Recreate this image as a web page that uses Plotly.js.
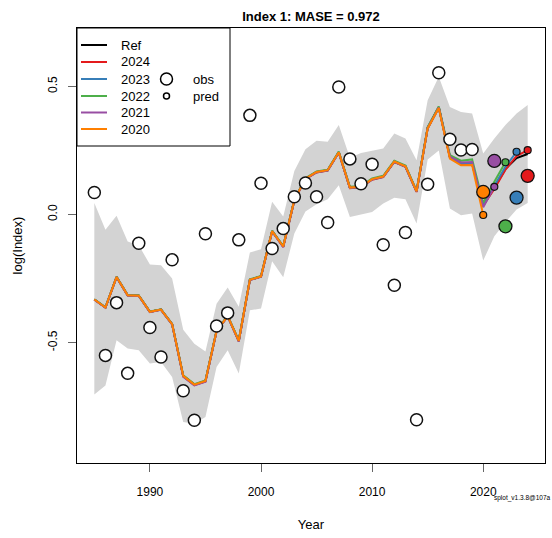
<!DOCTYPE html>
<html>
<head>
<meta charset="utf-8">
<script src="https://cdn.plot.ly/plotly-3.0.1.min.js"></script>
<style>html,body{margin:0;padding:0;background:#fff;}#chart{width:552px;height:538px;}</style>
</head>
<body>
<div id="chart"></div>
<script>
// ---- data ----
var years = [1985,1986,1987,1988,1989,1990,1991,1992,1993,1994,1995,1996,1997,1998,1999,2000,2001,2002,2003,2004,2005,2006,2007,2008,2009,2010,2011,2012,2013,2014,2015,2016,2017,2018,2019,2020,2021,2022,2023,2024];
var refFit = [-0.332,-0.363,-0.244,-0.315,-0.317,-0.380,-0.371,-0.428,-0.630,-0.664,-0.650,-0.455,-0.397,-0.493,-0.255,-0.242,-0.065,-0.125,0.056,0.140,0.166,0.173,0.243,0.105,0.108,0.138,0.148,0.207,0.188,0.090,0.338,0.419,0.225,0.200,0.200,0.035,0.105,0.178,0.220,0.236];
var ciUpper = [0.045,-0.060,-0.005,-0.105,-0.120,-0.195,-0.198,-0.250,-0.450,-0.505,-0.535,-0.348,-0.285,-0.360,-0.148,-0.136,0.050,-0.008,0.170,0.255,0.288,0.284,0.349,0.222,0.240,0.250,0.258,0.316,0.297,0.212,0.446,0.538,0.420,0.400,0.394,0.238,0.297,0.349,0.394,0.427];
var ciLower = [-0.703,-0.667,-0.491,-0.523,-0.530,-0.582,-0.576,-0.634,-0.810,-0.817,-0.790,-0.595,-0.530,-0.621,-0.374,-0.367,-0.182,-0.245,-0.074,0.012,0.040,0.060,0.114,-0.010,0.000,0.010,0.043,0.065,0.060,-0.035,0.215,0.250,0.023,-0.003,0.004,-0.180,-0.085,-0.030,0.020,0.045];
var peel2024 = [-0.332,-0.363,-0.244,-0.315,-0.317,-0.380,-0.371,-0.428,-0.632,-0.666,-0.652,-0.455,-0.397,-0.495,-0.255,-0.242,-0.065,-0.127,0.055,0.138,0.164,0.171,0.242,0.103,0.106,0.136,0.146,0.205,0.186,0.088,0.337,0.418,0.222,0.198,0.197,0.035,0.100,0.175,0.228,0.251];
var peel2023 = [-0.332,-0.363,-0.244,-0.315,-0.317,-0.380,-0.371,-0.428,-0.631,-0.665,-0.651,-0.455,-0.397,-0.494,-0.255,-0.242,-0.065,-0.126,0.056,0.139,0.165,0.172,0.243,0.104,0.107,0.137,0.147,0.206,0.187,0.089,0.338,0.419,0.224,0.200,0.199,0.040,0.112,0.186,0.245];
var peel2022 = [-0.331,-0.362,-0.243,-0.314,-0.316,-0.379,-0.370,-0.427,-0.628,-0.662,-0.648,-0.453,-0.395,-0.491,-0.253,-0.240,-0.063,-0.123,0.058,0.142,0.168,0.175,0.246,0.108,0.111,0.141,0.151,0.210,0.191,0.093,0.341,0.422,0.232,0.210,0.215,0.045,0.128,0.204];
var peel2021 = [-0.333,-0.364,-0.245,-0.316,-0.318,-0.381,-0.372,-0.429,-0.633,-0.667,-0.653,-0.456,-0.398,-0.495,-0.256,-0.243,-0.066,-0.127,0.055,0.139,0.165,0.172,0.242,0.104,0.107,0.137,0.147,0.206,0.187,0.089,0.337,0.418,0.226,0.203,0.205,0.028,0.108];
var peel2020 = [-0.332,-0.363,-0.244,-0.315,-0.317,-0.380,-0.371,-0.428,-0.630,-0.664,-0.650,-0.455,-0.397,-0.493,-0.255,-0.242,-0.065,-0.125,0.056,0.140,0.166,0.173,0.243,0.105,0.108,0.138,0.148,0.207,0.188,0.090,0.336,0.416,0.218,0.192,0.193,-0.002];
var obsYears = [1985,1986,1987,1988,1989,1990,1991,1992,1993,1994,1995,1996,1997,1998,1999,2000,2001,2002,2003,2004,2005,2006,2007,2008,2009,2010,2011,2012,2013,2014,2015,2016,2017,2018,2019];
var obsValues = [0.086,-0.550,-0.344,-0.620,-0.112,-0.441,-0.556,-0.177,-0.688,-0.803,-0.075,-0.435,-0.384,-0.099,0.387,0.122,-0.133,-0.055,0.069,0.123,0.069,-0.031,0.498,0.217,0.120,0.196,-0.118,-0.276,-0.070,-0.801,0.118,0.553,0.294,0.252,0.254];
var peelYears = [2024,2023,2022,2021,2020];
var peelObs = [0.151,0.066,-0.046,0.209,0.088];
var peelPred = [0.251,0.245,0.204,0.108,-0.002];
var peelColors = ['#E41A1C','#377EB8','#4DAF4A','#984EA3','#FF7F00'];
var legendLabels = ['Ref','2024','2023','2022','2021','2020'];

// ---- traces ----
var FONT = 'Liberation Sans, Arial, Helvetica, sans-serif';
var traces = [];
traces.push({
  x: years.concat(years.slice().reverse()),
  y: ciUpper.concat(ciLower.slice().reverse()),
  type: 'scatter', mode: 'lines', fill: 'toself',
  fillcolor: '#d3d3d3', line: {width: 0, color: '#d3d3d3'},
  hoverinfo: 'skip', showlegend: false
});
traces.push({x: years, y: refFit, type: 'scatter', mode: 'lines',
  line: {color: '#000000', width: 2}, showlegend: false});
var peels = [peel2024, peel2023, peel2022, peel2021, peel2020];
for (var i = 0; i < peels.length; i++) {
  traces.push({x: years.slice(0, peels[i].length), y: peels[i], type: 'scatter', mode: 'lines',
    line: {color: peelColors[i], width: 2}, showlegend: false});
}
traces.push({x: obsYears, y: obsValues, type: 'scatter', mode: 'markers',
  marker: {size: 12, color: '#ffffff', line: {color: '#111111', width: 1.5}}, showlegend: false});
traces.push({x: peelYears, y: peelPred, type: 'scatter', mode: 'markers',
  marker: {size: 7, color: peelColors, line: {color: '#111111', width: 1.2}}, showlegend: false});
traces.push({x: peelYears, y: peelObs, type: 'scatter', mode: 'markers',
  marker: {size: 13, color: peelColors, line: {color: '#111111', width: 1.3}}, showlegend: false});

// ---- manual legend (pixel -> paper helpers) ----
var L = 77, T = 28, W = 468, H = 435;
function px(x) { return (x - L) / W; }
function py(y) { return (T + H - y) / H; }
var shapes = [{type: 'rect', xref: 'paper', yref: 'paper', x0: 0, x1: px(230), y0: py(146), y1: 1,
  line: {color: '#000', width: 1}, fillcolor: 'rgba(255,255,255,0)', layer: 'above'}];
var annotations = [];
var legendColors = ['#000000'].concat(peelColors);
var rowY = [45, 62, 79, 96, 112.5, 129];
for (var k = 0; k < legendLabels.length; k++) {
  shapes.push({type: 'line', xref: 'paper', yref: 'paper', x0: px(81), x1: px(107), y0: py(rowY[k]), y1: py(rowY[k]),
    line: {color: legendColors[k], width: 2}});
  annotations.push({xref: 'paper', yref: 'paper', x: px(119), y: py(rowY[k]), xanchor: 'left', yanchor: 'middle',
    text: legendLabels[k], showarrow: false, font: {family: FONT, size: 13, color: '#000'}});
}
var symRows = [[79, 6, 'obs'], [96, 3, 'pred']];
for (var s = 0; s < symRows.length; s++) {
  shapes.push({type: 'circle', xref: 'paper', yref: 'paper', xsizemode: 'pixel', ysizemode: 'pixel',
    xanchor: px(166.5), yanchor: py(symRows[s][0]),
    x0: -symRows[s][1], x1: symRows[s][1], y0: -symRows[s][1], y1: symRows[s][1],
    line: {color: '#000', width: 1.5}, fillcolor: 'rgba(0,0,0,0)'});
  annotations.push({xref: 'paper', yref: 'paper', x: px(191), y: py(symRows[s][0]), xanchor: 'left', yanchor: 'middle',
    text: symRows[s][2], showarrow: false, font: {family: FONT, size: 13, color: '#000'}});
}
annotations.push({xref: 'paper', yref: 'paper', x: px(552), y: py(498), xanchor: 'right', yanchor: 'middle',
  text: 'splot_v1.3.8@107a', showarrow: false, font: {family: FONT, size: 6.5, color: '#000'}});

var layout = {
  width: 552, height: 538,
  margin: {l: 77, r: 7, t: 28, b: 75, pad: 0},
  paper_bgcolor: '#ffffff', plot_bgcolor: '#ffffff',
  showlegend: false,
  font: {family: FONT, size: 12, color: '#000'},
  title: {text: '<b>Index 1: MASE = 0.972</b>', x: 0.5, xref: 'paper', y: 1 - 16 / 538, yref: 'container',
    xanchor: 'center', yanchor: 'middle', font: {family: FONT, size: 13, color: '#000'}},
  xaxis: {range: [1983.44, 2025.56], tickvals: [1990, 2000, 2010, 2020], ticktext: ['1990','2000','2010','2020'],
    showgrid: false, zeroline: false, showline: true, linecolor: '#000', linewidth: 1, mirror: true,
    ticks: 'outside', ticklen: 8, tickcolor: '#666', tickwidth: 1, ticklabelstandoff: 10,
    tickfont: {family: FONT, size: 12, color: '#000'},
    title: {text: 'Year', standoff: 21, font: {family: FONT, size: 13, color: '#000'}}},
  yaxis: {range: [-0.970, 0.728], tickvals: [-0.5, 0, 0.5], ticktext: ['-0.5','0.0','0.5'], tickangle: -90,
    showgrid: false, zeroline: false, showline: true, linecolor: '#000', linewidth: 1, mirror: true,
    ticks: 'outside', ticklen: 8, tickcolor: '#666', tickwidth: 1, ticklabelstandoff: 6,
    tickfont: {family: FONT, size: 12, color: '#000'},
    title: {text: 'log(Index)', standoff: 20, font: {family: FONT, size: 13, color: '#000'}}},
  shapes: shapes,
  annotations: annotations
};
Plotly.newPlot('chart', traces, layout, {staticPlot: true, displayModeBar: false});
</script>
</body>
</html>
